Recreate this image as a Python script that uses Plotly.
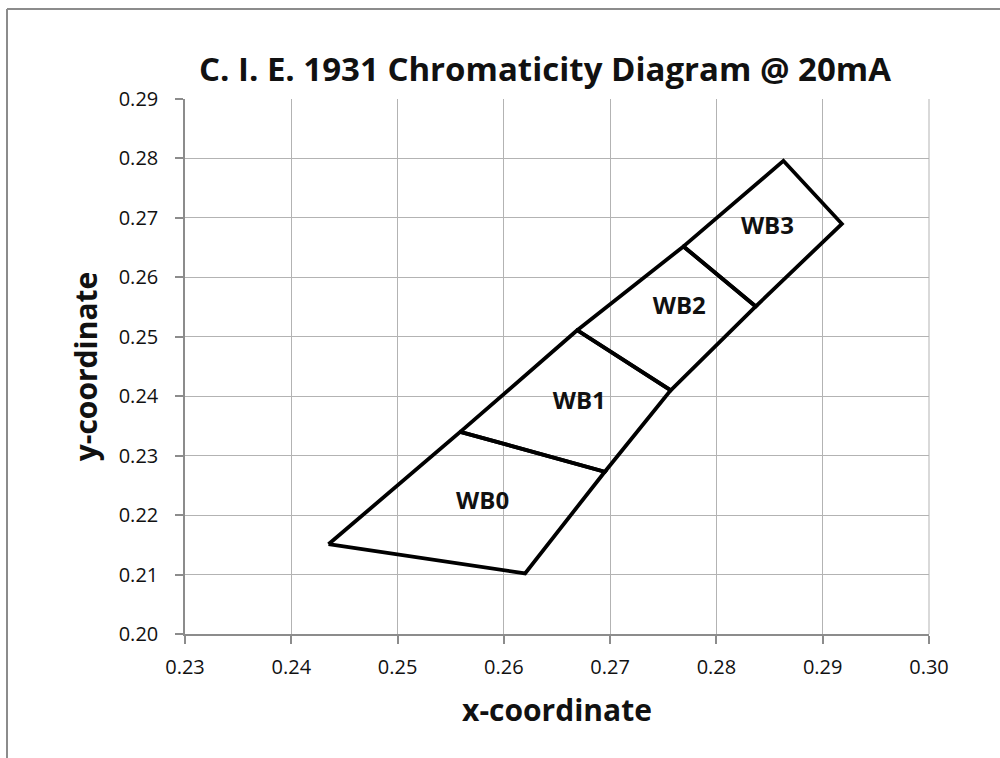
import plotly.graph_objects as go

# Bin outlines (x, y chromaticity), closed polygons
wb0_x = [0.2435, 0.2620, 0.2695, 0.2559, 0.2435]
wb0_y = [0.2151, 0.2102, 0.2273, 0.2340, 0.2151]
wb1_x = [0.2559, 0.2695, 0.2757, 0.2669, 0.2559]
wb1_y = [0.2340, 0.2273, 0.2410, 0.2511, 0.2340]
wb2_x = [0.2669, 0.2757, 0.2837, 0.2769, 0.2669]
wb2_y = [0.2511, 0.2410, 0.2551, 0.2652, 0.2511]
wb3_x = [0.2769, 0.2837, 0.2918, 0.2863, 0.2769]
wb3_y = [0.2652, 0.2551, 0.2690, 0.2796, 0.2652]

bin_names = ["WB0", "WB1", "WB2", "WB3"]
label_x = [0.2580, 0.2671, 0.2765, 0.2848]
label_y = [0.2220, 0.2389, 0.2548, 0.2683]

x_ticks = [0.23, 0.24, 0.25, 0.26, 0.27, 0.28, 0.29, 0.30]
y_ticks = [0.20, 0.21, 0.22, 0.23, 0.24, 0.25, 0.26, 0.27, 0.28, 0.29]

FONT = "Open Sans"

fig = go.Figure()
for xs, ys, name in zip([wb0_x, wb1_x, wb2_x, wb3_x], [wb0_y, wb1_y, wb2_y, wb3_y], bin_names):
    fig.add_trace(go.Scatter(x=xs, y=ys, mode="lines", name=name,
                             line=dict(color="black", width=3.8), showlegend=False,
                             hoverinfo="skip"))

fig.add_trace(go.Scatter(x=label_x, y=label_y, mode="text",
                         text=[f"<b>{n}</b>" for n in bin_names],
                         textfont=dict(family=FONT, size=24, color="#111111"),
                         showlegend=False, hoverinfo="skip"))

axis_common = dict(showgrid=True, gridcolor="#b3b3b3", gridwidth=1,
                   showline=True, linecolor="#8c8c8c", linewidth=1.5,
                   ticks="outside", ticklen=8, tickcolor="#8c8c8c", tickwidth=1.5,
                   tickfont=dict(family=FONT, size=20, color="#111111"),
                   zeroline=False, mirror=False)

fig.update_xaxes(range=[0.23, 0.30], tickvals=x_ticks,
                 ticktext=[f"{v:.2f}" for v in x_ticks],
                 title=dict(text="<b>x-coordinate</b>", font=dict(family=FONT, size=30, color="#111111"),
                            standoff=21),
                 ticklabelstandoff=6,
                 **axis_common)
fig.update_yaxes(range=[0.20, 0.29], tickvals=y_ticks,
                 ticktext=[f"{v:.2f}" for v in y_ticks],
                 title=dict(text="<b>y-coordinate</b>", font=dict(family=FONT, size=30, color="#111111"),
                            standoff=12),
                 ticklabelstandoff=13,
                 **axis_common)

fig.update_layout(
    width=1000, height=758,
    margin=dict(l=185, r=71, t=99, b=124),
    paper_bgcolor="white", plot_bgcolor="white",
    title=dict(text="<b>C. I. E. 1931 Chromaticity Diagram @ 20mA</b>",
               font=dict(family=FONT, size=33, color="#111111"),
               x=0.545, xanchor="center", y=0.908, yanchor="middle"),
    shapes=[
        dict(type="line", xref="paper", yref="paper",
             x0=(7 - 185) / 744, x1=(1000 - 185) / 744 + 0.01,
             y0=1 + (99 - 9) / 535, y1=1 + (99 - 9) / 535,
             line=dict(color="#8c8c8c", width=2)),
        dict(type="line", xref="paper", yref="paper",
             x0=(7 - 185) / 744, x1=(7 - 185) / 744,
             y0=1 + (99 - 9) / 535, y1=-(758 - 634) / 535 - 0.01,
             line=dict(color="#8c8c8c", width=2)),
        dict(type="line", xref="paper", yref="paper",
             x0=1, x1=1, y0=0, y1=1,
             line=dict(color="#b3b3b3", width=1)),
    ],
)

fig.write_html("out.html", config={"displayModeBar": False},
               post_script="document.body.style.margin='0px';")
